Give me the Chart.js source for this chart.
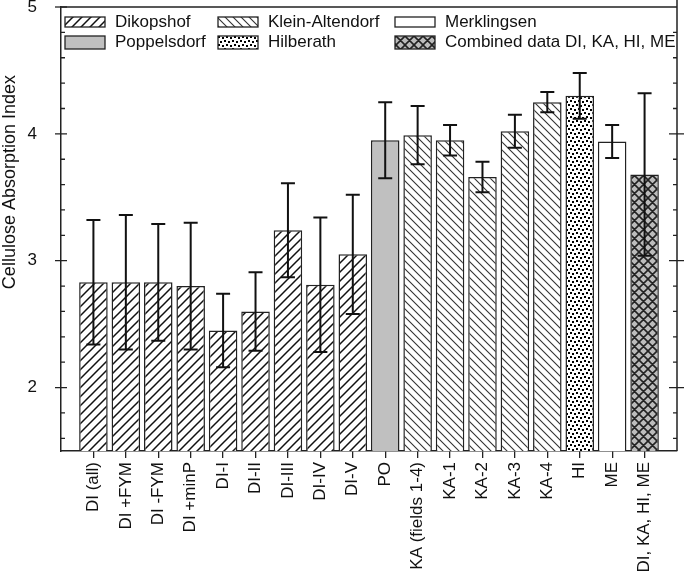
<!DOCTYPE html>
<html>
<head>
<meta charset="utf-8">
<script src="https://cdn.jsdelivr.net/npm/chart.js@4"></script>
<style>
html, body { margin: 0; padding: 0; background: #fff; }
</style>
</head>
<body>
<canvas id="stage" width="685" height="577"></canvas>
<script>
// 「データ」
var categories = ['DI (all)', 'DI +FYM', 'DI -FYM', 'DI +minP', 'DI-I', 'DI-II', 'DI-III', 'DI-IV', 'DI-V',
    'PO', 'KA (fields 1-4)', 'KA-1', 'KA-2', 'KA-3', 'KA-4', 'HI', 'ME', 'DI, KA, HI, ME'];
var sites = ['DI', 'DI', 'DI', 'DI', 'DI', 'DI', 'DI', 'DI', 'DI',
    'PO', 'KA', 'KA', 'KA', 'KA', 'KA', 'HI', 'ME', 'ALL'];
var cai = [2.83, 2.83, 2.83, 2.80, 2.45, 2.60, 3.24, 2.81, 3.05,
    3.95, 3.99, 3.95, 3.66, 4.02, 4.25, 4.30, 3.94, 3.68];
var caiErr = [0.49, 0.53, 0.46, 0.50, 0.29, 0.31, 0.37, 0.53, 0.47,
    0.30, 0.23, 0.12, 0.12, 0.13, 0.08, 0.18, 0.13, 0.64];
var yTicks = [2, 3, 4, 5];
var yTitle = 'Cellulose Absorption Index';
var legendNames = ['Dikopshof', 'Poppelsdorf', 'Klein-Altendorf', 'Hilberath', 'Merklingsen', 'Combined data DI, KA, HI, ME'];
var legendSites = ['DI', 'PO', 'KA', 'HI', 'ME', 'ALL'];

var canvas = document.getElementById('stage');
var ctx = canvas.getContext('2d');

// 「パターン」
function tile(size, bg) {
    var c = document.createElement('canvas');
    c.width = c.height = size;
    var g = c.getContext('2d');
    g.fillStyle = bg;
    g.fillRect(0, 0, size, size);
    return c;
}
function hatch(dir, size, lw, color, bg) {
    var c = tile(size, bg);
    var g = c.getContext('2d');
    g.strokeStyle = color;
    g.lineWidth = lw;
    g.beginPath();
    if (dir === '/' || dir === 'x') {
        g.moveTo(-1, size + 1); g.lineTo(size + 1, -1);
        g.moveTo(-2, 2); g.lineTo(2, -2);
        g.moveTo(size - 2, size + 2); g.lineTo(size + 2, size - 2);
    }
    if (dir === '\\' || dir === 'x') {
        g.moveTo(-1, -1); g.lineTo(size + 1, size + 1);
        g.moveTo(size - 2, -2); g.lineTo(size + 2, 2);
        g.moveTo(-2, size - 2); g.lineTo(2, size + 2);
    }
    g.stroke();
    return ctx.createPattern(c, 'repeat');
}
function dots() {
    var c = tile(8, '#fff');
    var g = c.getContext('2d');
    g.fillStyle = '#000';
    g.fillRect(0, 0, 2, 2);
    g.fillRect(4, 1, 2, 2);
    g.fillRect(2, 4, 2, 2);
    g.fillRect(6, 5, 2, 2);
    return ctx.createPattern(c, 'repeat');
}
var fills = {
    DI: hatch('/', 9, 1.5, '#111', '#fff'),
    PO: '#c0c0c0',
    KA: hatch('\\', 8, 1.1, '#333', '#fff'),
    HI: dots(),
    ME: '#fff',
    ALL: hatch('x', 9, 1.6, '#222', '#bcbcbc')
};

var labels = [''].concat(categories, ['']);
var values = [null].concat(cai, [null]);
var barFills = [null].concat(sites.map(function (s) { return fills[s]; }), [null]);

// 「誤差棒・枠・凡例」
var extras = {
    id: 'extras',
    afterDatasetsDraw: function (chart) {
        var c = chart.ctx, ca = chart.chartArea, y = chart.scales.y;
        var meta = chart.getDatasetMeta(0);
        c.save();
        // error bars
        c.strokeStyle = '#111';
        c.lineWidth = 2;
        for (var i = 0; i < cai.length; i++) {
            var bx = meta.data[i + 1].x;
            var t = y.getPixelForValue(cai[i] + caiErr[i]);
            var b = y.getPixelForValue(cai[i] - caiErr[i]);
            c.beginPath();
            c.moveTo(bx, t); c.lineTo(bx, b);
            c.moveTo(bx - 7, t); c.lineTo(bx + 7, t);
            c.moveTo(bx - 7, b); c.lineTo(bx + 7, b);
            c.stroke();
        }
        // frame
        c.strokeStyle = '#222';
        c.lineWidth = 1.5;
        c.beginPath();
        c.moveTo(ca.left, ca.top); c.lineTo(ca.right, ca.top);
        c.moveTo(ca.right, ca.top - 7); c.lineTo(ca.right, ca.bottom);
        c.stroke();
        // y ticks, both sides
        c.lineWidth = 1.3;
        for (var k = 16; k <= 50; k += 2) {
            var py = y.getPixelForValue(k / 10);
            var major = k % 10 === 0;
            c.beginPath();
            c.moveTo(ca.left - (major ? 6 : 0), py); c.lineTo(ca.left + (major ? 6 : 4), py);
            if (k < 50) {
                c.moveTo(ca.right - (major ? 8 : 4), py); c.lineTo(ca.right + (major ? 7 : 0), py);
            }
            c.stroke();
        }
        // y axis title (slightly above the middle, as in the source figure)
        c.save();
        c.translate(10, y.getPixelForValue(3.62));
        c.rotate(-Math.PI / 2);
        c.font = '18px "Liberation Sans", Arial, sans-serif';
        c.textAlign = 'center';
        c.textBaseline = 'middle';
        c.fillStyle = '#111';
        c.fillText(yTitle, 0, 0);
        c.restore();
        // legend
        var colX = [4, 157, 334];
        var rows = [{ top: 10, h: 10, mid: 15.5 }, { top: 29, h: 13, mid: 35 }];
        c.font = '17px "Liberation Sans", Arial, sans-serif';
        c.textBaseline = 'middle';
        c.textAlign = 'left';
        for (var j = 0; j < legendNames.length; j++) {
            var col = Math.floor(j / 2), row = rows[j % 2];
            var lx = ca.left + colX[col], ly = ca.top + row.top;
            c.fillStyle = fills[legendSites[j]];
            c.fillRect(lx, ly, 40, row.h);
            c.strokeStyle = '#222';
            c.lineWidth = 1.3;
            c.strokeRect(lx, ly, 40, row.h);
            c.fillStyle = '#111';
            c.fillText(legendNames[j], lx + 50, ca.top + row.mid);
        }
        c.restore();
    }
};

Chart.defaults.font.family = '"Liberation Sans", Arial, sans-serif';
Chart.defaults.color = '#111';

var chart = new Chart(canvas, {
    type: 'bar',
    data: {
        labels: labels,
        datasets: [{
            data: values,
            backgroundColor: barFills,
            borderColor: '#222',
            borderWidth: 1.5,
            barPercentage: 0.88,
            categoryPercentage: 1
        }]
    },
    options: {
        responsive: false,
        animation: false,
        devicePixelRatio: 1,
        layout: { padding: { top: 7, right: 8, left: 0, bottom: 0 } },
        plugins: { legend: { display: false }, tooltip: { enabled: false } },
        scales: {
            x: {
                offset: false,
                grid: {
                    offset: false,
                    drawOnChartArea: false,
                    drawTicks: true,
                    tickLength: 7,
                    lineWidth: 1.3,
                    color: function (c) { return (c.index === 0 || c.index === labels.length - 1) ? 'rgba(0,0,0,0)' : '#222'; }
                },
                border: { display: true, color: '#222', width: 1.5 },
                ticks: { minRotation: 90, maxRotation: 90, autoSkip: false, padding: 4, font: { size: 17 }, color: '#111' },
                afterFit: function (s) { s.height = 126; s.paddingLeft = 0; s.paddingRight = 0; }
            },
            y: {
                min: 1.5,
                max: 5,
                grid: { display: false },
                border: { display: true, color: '#222', width: 1.5 },
                ticks: { padding: 16, font: { size: 17 }, color: '#111' },
                afterBuildTicks: function (s) { s.ticks = yTicks.map(function (v) { return { value: v }; }); },
                afterFit: function (s) { s.width = 61; s.paddingTop = 0; s.paddingBottom = 0; }
            }
        }
    },
    plugins: [extras]
});
</script>
</body>
</html>
